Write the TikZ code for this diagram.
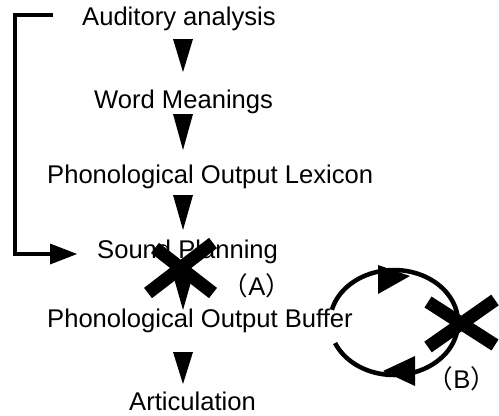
\documentclass[tikz,border=0pt]{standalone}
\usepackage{fontspec}
\setmainfont{Liberation Sans}
\newfontfamily\cjk{Noto Sans CJK JP}
\begin{document}
\begin{tikzpicture}[x=1bp,y=-1bp,
  lbl/.style={anchor=base west, inner sep=0pt, font=\fontsize{25.6bp}{30bp}\selectfont},
  tag/.style={inner sep=0pt, font=\fontsize{25.6bp}{30bp}\selectfont},
  head/.style={fill=black},
  lnk/.style={line width=4.5bp},
  crossbar/.style={line width=13bp}]
\useasboundingbox[fill=white] (0,0) rectangle (499,415);
% texts
\node[lbl] (aud) at (82,25) {Auditory analysis};
\node[lbl] (wm) at (94,108) {Word Meanings};
\node[lbl] (pol) at (47,183) {Phonological Output Lexicon};
\node[lbl] (sp) at (97,258) {Sound Planning};
\node[lbl] (pob) at (47,327) {Phonological Output Buffer};
\node[lbl] (art) at (129,410) {Articulation};
% down arrowheads
\fill[head] (173,39) -- (193,39) -- (183,72) -- cycle;
\fill[head] (173,114) -- (193,114) -- (183,150) -- cycle;
\fill[head] (173,195) -- (193,195) -- (183,230) -- cycle;
\fill[head] (173,275) -- (193,275) -- (183,310) -- cycle;
\fill[head] (173,352) -- (193,352) -- (183,384) -- cycle;
% left feedback bracket
\draw[lnk] (53,15) -- (15,15) -- (15,254) -- (52,254);
\fill[head] (50,243.5) -- (77,254) -- (50,264.5) -- cycle;
% cross A
\draw[crossbar] (155,248) -- (213,293);
\draw[crossbar] (213,243) -- (148,293);
\node[tag, anchor=base] (la) at (257,295) {{\cjk （}A{\cjk ）}};
% loop
\draw[lnk] plot[domain=194:517, samples=120] ({394+64*cos(\x)}, {322.5+52.5*sin(\x)});
\fill[head] (378,265) -- (410,276) -- (378,294) -- cycle;
\fill[head] (415,356) -- (383,371) -- (415,386) -- cycle;
% cross B
\draw[crossbar] (428,302) -- (495,345);
\draw[crossbar] (495,300) -- (428,347);
\node[tag, anchor=base] (lb) at (462,388) {{\cjk （}B{\cjk ）}};
\end{tikzpicture}
\end{document}
